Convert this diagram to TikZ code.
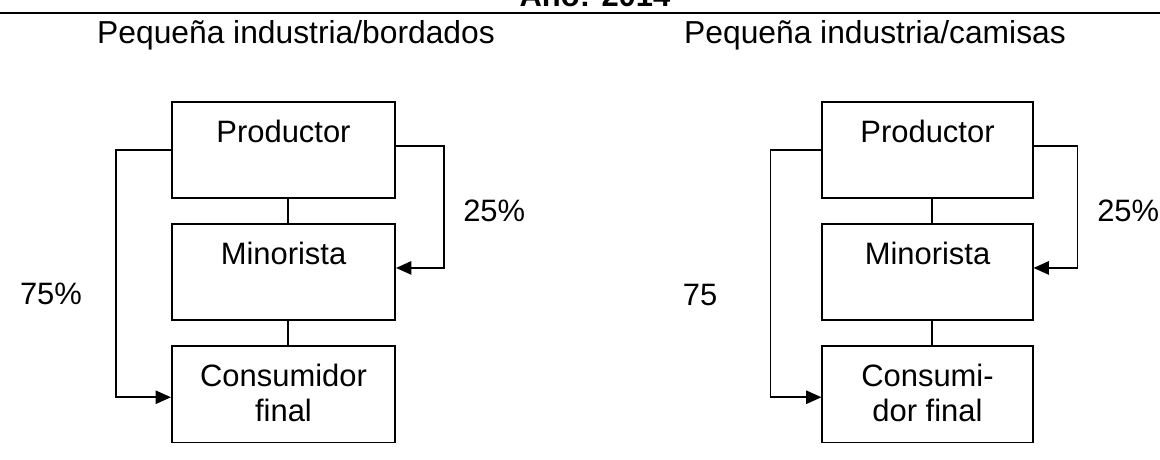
\documentclass[tikz,border=0pt]{standalone}
\usepackage{fontspec}
\setmainfont{Liberation Sans}
\usetikzlibrary{arrows.meta}
\tikzset{
    caja/.style={draw, line width=1.4pt, minimum width=#1, minimum height=2.4125cm,
        inner sep=0pt, anchor=north, text height=15.65pt, text depth=25.96pt},
    dosrenglones/.style={align=center, text height=40.5pt, text depth=1.07pt},
    linea/.style={line width=1.3pt},
    flecha/.style={line width=1.3pt, -{Triangle[length=11pt,width=9.5pt]}},
    rotulo/.style={inner sep=0pt}
}
\newcommand{\cadena}[6]{  % 1 nombre, 2 centro x, 3 ancho, 4 consumidor, 5 y 6 salidas
        \node[caja=#3] (#1prod) at (#2, 100.7) {Productor};
        \node[caja=#3] (#1min) at (#2, 222.7) {Minorista};
        \node[caja=#3, dosrenglones] (#1cons) at (#2, 345) {#4};
        \draw[linea] ([xshift=0.11cm]#1prod.south) -- ([xshift=0.11cm]#1min.north);
        \draw[linea] ([xshift=0.11cm]#1min.south) -- ([xshift=0.11cm]#1cons.north);
        \draw[flecha] (#1prod.west) -- ++(-#5,0) |- ([yshift=-0.075cm]#1cons.west);%directo
        \draw[flecha] ([yshift=0.1cm]#1prod.east) -- ++(#6,0) |- ([yshift=0.1cm]#1min.east);
}

\begin{document}
\begin{tikzpicture}[x=0.025cm, y=-0.025cm, font=\fontsize{22}{24.9}\selectfont]
		\useasboundingbox (0,0) rectangle (1160,460);
		\clip (0,0) rectangle (1160,460);
		\node[rotulo, anchor=base, font=\fontsize{22}{24.9}\selectfont\bfseries] (anio) at (595, 6.7) {Año: 2014};
		\draw[line width=1.4pt] (0,12.7) coordinate (raya1) -- (1160,12.7) coordinate (raya2);
		\node[rotulo, anchor=base, font=\fontsize{22.6}{25}\selectfont] (bordados) at (296, 43.5) {Pequeña industria/bordados};
		\node[rotulo, anchor=base, font=\fontsize{22.6}{25}\selectfont] (camisas) at (875, 43.5) {Pequeña industria/camisas};
		\cadena{a}{283.5}{5.575cm}{Consumidor\\final}{55}{48}
		\cadena{b}{927.5}{5.25cm}{Consumi-\\dor final}{51}{44}
		\node[rotulo, anchor=base] (a75) at (51, 304) {75\%};
		\node[rotulo, anchor=base west] (a25) at (463, 221.7) {25\%};
		\node[rotulo, anchor=base] (b75) at (700, 305) {75};
		\node[rotulo, anchor=base west] (b25) at (1097, 221.7) {25\%};
		\end{tikzpicture}
\end{document}
